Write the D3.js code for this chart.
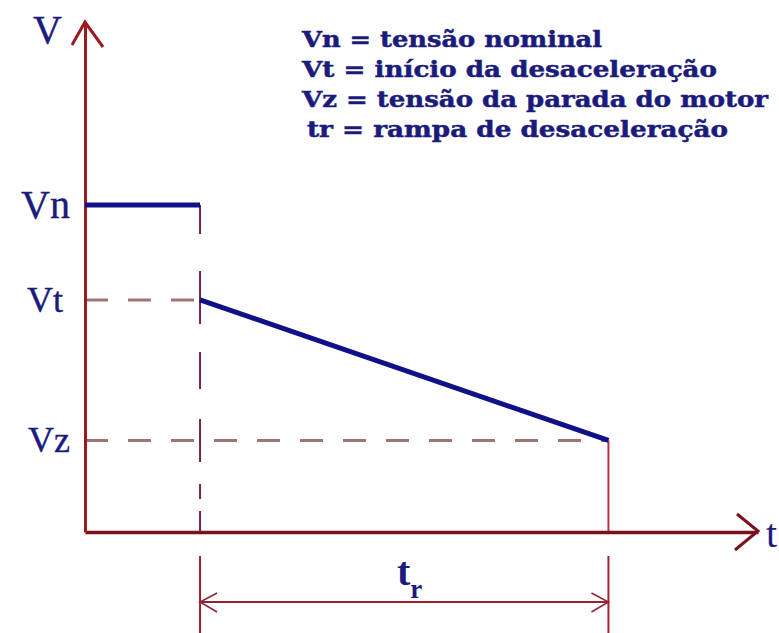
<!DOCTYPE html>
<html>
<head>
<meta charset="utf-8">
<script src="https://cdn.jsdelivr.net/npm/d3@7"></script>
<style>
  html, body { margin: 0; padding: 0; background: #ffffff; }
  svg { display: block; }
</style>
</head>
<body>
<svg id="chart" width="779" height="633"></svg>
<script>
// Voltage levels shown on the V axis
const levelNames = ["Vn", "Vt", "Vz"];
const levelValues = [100, 71, 28];

// Time marks: start and end of the deceleration ramp
const rampStartT = 1;
const rampEndT = 4.55;

// Nominal-voltage segment and deceleration ramp
const nominalT = [0, 1];
const nominalV = [100, 100];
const rampT = [1, 4.55];
const rampV = [71, 28];

// Axis extents
const tMax = 5.85;
const vMax = 156;

// Legend text
const legendLines = [
  "Vn = tensão nominal",
  "Vt = início da desaceleração",
  "Vz = tensão da parada do motor",
  "tr = rampa de desaceleração"
];
const legendWidths = [300, 415, 466, 421];

const svg = d3.select("#chart");
const W = 779, H = 633;
const ox = 85, oy = 532;

const x = d3.scaleLinear().domain([0, tMax]).range([ox, 758]);
const y = d3.scaleLinear().domain([0, vMax]).range([oy, 22]);

const textColor = "#1b1b7c";
const lineColor = "#101088";
const guideColor = "#a07476";
const serif = "'Liberation Serif', 'Times New Roman', serif";
const boldSerif = "'DejaVu Serif', 'Liberation Serif', serif";

// Horizontal guide lines from the V axis to each level's point
const guideEnds = [null, rampStartT, rampEndT];
levelValues.forEach((v, i) => {
  if (guideEnds[i] === null) return;
  svg.append("line")
    .attr("x1", x(0)).attr("x2", x(guideEnds[i]))
    .attr("y1", y(v)).attr("y2", y(v))
    .attr("stroke", guideColor).attr("stroke-width", 3)
    .attr("stroke-dasharray", "23,20");
});

// Vertical dashed guide at the start of the ramp
svg.append("line")
  .attr("x1", x(rampStartT)).attr("x2", x(rampStartT))
  .attr("y1", y(nominalV[1])).attr("y2", y(0))
  .attr("stroke", "#6e2a3c").attr("stroke-width", 2)
  .attr("stroke-dasharray", "29,37,53,28,37,30,43,22,15,12,20");

// Solid vertical at the end of the ramp
svg.append("line")
  .attr("x1", x(rampEndT)).attr("x2", x(rampEndT))
  .attr("y1", y(rampV[1])).attr("y2", y(0))
  .attr("stroke", "#c0303c").attr("stroke-width", 2);

// Extension lines below the time axis for the dimension
[rampStartT, rampEndT].forEach(t => {
  svg.append("line")
    .attr("x1", x(t)).attr("x2", x(t))
    .attr("y1", oy + 24).attr("y2", H)
    .attr("stroke", "#a02030").attr("stroke-width", 2);
});

// Dimension line with open arrowheads
const dimY = oy + 70;
svg.append("line")
  .attr("x1", x(rampStartT)).attr("x2", x(rampEndT))
  .attr("y1", dimY).attr("y2", dimY)
  .attr("stroke", "#9a2030").attr("stroke-width", 2);
[[rampStartT, 1], [rampEndT, -1]].forEach(([t, dir]) => {
  const tx = x(t);
  svg.append("path")
    .attr("d", `M${tx + dir * 17},${dimY - 9} L${tx},${dimY} L${tx + dir * 17},${dimY + 10}`)
    .attr("fill", "none").attr("stroke", "#8a2a3a").attr("stroke-width", 1.6);
});

// Axes
const xAxis = d3.axisBottom(x).tickValues([]).tickSizeOuter(0);
const yAxis = d3.axisLeft(y).tickValues(levelValues)
  .tickFormat((d, i) => levelNames[i]).tickSize(0).tickSizeOuter(0).tickPadding(15);

const gx = svg.append("g").attr("transform", `translate(0,${oy})`).call(xAxis);
gx.select(".domain").attr("stroke", "#7a101c").attr("stroke-width", 3.5);

const gy = svg.append("g").attr("transform", `translate(${ox},0)`).call(yAxis);
gy.select(".domain").attr("stroke", "#9a1a1e").attr("stroke-width", 3);
gy.selectAll(".tick text")
  .attr("fill", textColor)
  .attr("stroke", textColor).attr("stroke-width", 0.4)
  .style("font-family", serif)
  .style("font-size", (d, i) => i === 0 ? "40px" : "36px")
  .attr("dx", (d, i) => i === 1 ? -7 : 0);

// Axis arrowheads
svg.append("path")
  .attr("d", `M${ox - 13},${y(vMax) + 23} L${ox},${y(vMax)} L${ox + 18},${y(vMax) + 25}`)
  .attr("fill", "none").attr("stroke", "#9a1a1e").attr("stroke-width", 3);
svg.append("path")
  .attr("d", `M${x(tMax) - 21},${oy - 18} L${x(tMax)},${oy - 1} L${x(tMax) - 23},${oy + 18}`)
  .attr("fill", "none").attr("stroke", "#7a101c").attr("stroke-width", 3);

// Axis titles
svg.append("text").attr("x", 33).attr("y", 43).text("V")
  .attr("fill", textColor).attr("stroke", textColor).attr("stroke-width", 0.4)
  .style("font-family", serif).style("font-size", "40px");
svg.append("text").attr("x", 766).attr("y", 547).text("t")
  .attr("fill", textColor).style("font-family", serif).style("font-size", "40px");

// Voltage profile
const line = d3.line().x(d => x(d[0])).y(d => y(d[1]));
svg.append("path")
  .datum(d3.zip(nominalT, nominalV))
  .attr("d", line)
  .attr("fill", "none").attr("stroke", lineColor).attr("stroke-width", 5);
svg.append("path")
  .datum(d3.zip(rampT, rampV))
  .attr("d", line)
  .attr("fill", "none").attr("stroke", lineColor).attr("stroke-width", 5);

// Ramp duration label
const tr = svg.append("text").attr("x", 397).attr("y", 585)
  .attr("fill", textColor).style("font-family", serif).style("font-weight", "bold");
tr.append("tspan").text("t").style("font-size", "40px");
tr.append("tspan").text("r").style("font-size", "27px").attr("dy", 13);

// Legend
const legend = svg.append("g");
legendLines.forEach((s, i) => {
  legend.append("text")
    .attr("x", i === 3 ? 307 : 302)
    .attr("y", 47 + i * 30)
    .attr("textLength", legendWidths[i])
    .attr("lengthAdjust", "spacingAndGlyphs")
    .attr("fill", textColor)
    .attr("stroke", textColor).attr("stroke-width", 0.5)
    .style("font-family", boldSerif)
    .style("font-weight", "bold")
    .style("font-size", "22px")
    .text(s);
});
</script>
</body>
</html>
